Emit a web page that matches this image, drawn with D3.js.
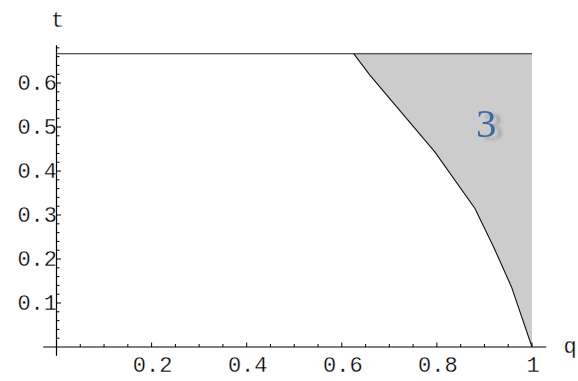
<!DOCTYPE html>
<html><head><meta charset="utf-8">
<script src="https://cdn.jsdelivr.net/npm/d3@7"></script>
<style>
html,body{margin:0;padding:0;background:#fff;}
svg{display:block;}
</style></head>
<body>
<script>
// Boundary curve of region 3 (q, t)
const boundaryQ = [0.625, 0.659, 0.796, 0.880, 0.919, 0.957, 1.0];
const boundaryT = [0.6667, 0.618, 0.443, 0.315, 0.228, 0.136, 0.0];
const topT = 2/3;
const xMajorTicks = [0.2, 0.4, 0.6, 0.8, 1];
const xTickLabels = ["0.2", "0.4", "0.6", "0.8", "1"];
const xMinorTicks = [0.05,0.1,0.15,0.25,0.3,0.35,0.45,0.5,0.55,0.65,0.7,0.75,0.85,0.9,0.95];
const yMajorTicks = [0.1, 0.2, 0.3, 0.4, 0.5, 0.6];
const yTickLabels = ["0.1", "0.2", "0.3", "0.4", "0.5", "0.6"];
const yMinorTicks = [0.02,0.04,0.06,0.08,0.12,0.14,0.16,0.18,0.22,0.24,0.26,0.28,0.32,0.34,0.36,0.38,0.42,0.44,0.46,0.48,0.52,0.54,0.56,0.58,0.62,0.64,0.66,0.68];
const regionLabel = {text: "3", q: 0.904, t: 0.477};

const W = 578, H = 381;
const svg = d3.select("body").append("svg").attr("width", W).attr("height", H);

const x = d3.scaleLinear().domain([0, 1]).range([56.5, 532.0]);
const y = d3.scaleLinear().domain([0, topT]).range([347, 53.7]);

const defs = svg.append("defs");
const f = defs.append("filter").attr("id","shadow").attr("x","-30%").attr("y","-30%").attr("width","180%").attr("height","160%");
f.append("feGaussianBlur").attr("in","SourceAlpha").attr("stdDeviation",1.4).attr("result","b");
f.append("feOffset").attr("in","b").attr("dx",7).attr("dy",3).attr("result","o");
f.append("feFlood").attr("flood-color","#a0a0a0").attr("flood-opacity",0.85).attr("result","c");
f.append("feComposite").attr("in","c").attr("in2","o").attr("operator","in").attr("result","s");
const m = f.append("feMerge");
m.append("feMergeNode").attr("in","s");
m.append("feMergeNode").attr("in","SourceGraphic");

const line = d3.line().x(d=>x(d[0])).y(d=>y(d[1]));
const pts = boundaryQ.map((q,i)=>[q, boundaryT[i]]);
const poly = [[boundaryQ[0], topT]].concat(pts).concat([[1, 0], [1, topT]]);
svg.append("path").attr("d", line(poly) + "Z").attr("fill", "#cccccc").attr("stroke", "none");

// top line
svg.append("path").attr("d", line([[0, topT],[1, topT]]))
  .attr("fill","none").attr("stroke","#222").attr("stroke-width",1.1);
// boundary curve
svg.append("path").attr("d", line(pts))
  .attr("fill","none").attr("stroke","#111").attr("stroke-width",1.1);

// axes lines
const axisG = svg.append("g").attr("stroke","#000").attr("stroke-width",1.2);
axisG.append("line").attr("x1", x(-0.028)).attr("x2", x(1.03)).attr("y1", y(0)).attr("y2", y(0));
axisG.append("line").attr("x1", x(0)).attr("x2", x(0)).attr("y1", y(-0.02)).attr("y2", y(0.686));

// ticks
const tickG = svg.append("g").attr("stroke","#000").attr("stroke-width",1);
tickG.selectAll(".xm").data(xMinorTicks).join("line")
  .attr("x1", d=>x(d)).attr("x2", d=>x(d)).attr("y1", y(0)).attr("y2", y(0)-3);
tickG.selectAll(".xM").data(xMajorTicks).join("line")
  .attr("x1", d=>x(d)).attr("x2", d=>x(d)).attr("y1", y(0)).attr("y2", y(0)-4.5);
tickG.selectAll(".ym").data(yMinorTicks).join("line")
  .attr("x1", x(0)).attr("x2", x(0)+3).attr("y1", d=>y(d)).attr("y2", d=>y(d));
tickG.selectAll(".yM").data(yMajorTicks).join("line")
  .attr("x1", x(0)).attr("x2", x(0)+4.5).attr("y1", d=>y(d)).attr("y2", d=>y(d));

const font = "'Liberation Mono', 'Courier New', monospace";
const fs = 22;
function thin(sel){ return sel.attr("stroke","#fff").attr("stroke-width",0.3).attr("paint-order","fill"); }
thin(svg.selectAll(".xl").data(xMajorTicks).join("text")
  .attr("x", d=>x(d)+1).attr("y", y(0)+25)
  .attr("text-anchor","middle").attr("font-family",font).attr("font-size",fs).attr("fill","#000")
  .text((d,i)=>xTickLabels[i]));
thin(svg.selectAll(".yl").data(yMajorTicks).join("text")
  .attr("x", x(0)+0.5).attr("y", d=>y(d)+7)
  .attr("text-anchor","end").attr("font-family",font).attr("font-size",fs).attr("fill","#000")
  .text((d,i)=>yTickLabels[i]));

thin(svg.append("text").attr("x", x(0)+1).attr("y", 27).attr("text-anchor","middle")
  .attr("font-family",font).attr("font-size",fs).attr("fill","#000").text("t"));
thin(svg.append("text").attr("x", x(1.08)).attr("y", y(0)+6).attr("text-anchor","middle")
  .attr("font-family",font).attr("font-size",fs).attr("fill","#000").text("q"));

// region label with drop shadow
svg.append("text").attr("x", x(regionLabel.q)).attr("y", y(regionLabel.t))
  .attr("text-anchor","middle").attr("font-family","'Liberation Serif','Times New Roman',serif")
  .attr("font-size",41).attr("fill","#3a6aa3").attr("filter","url(#shadow)").text(regionLabel.text);
</script>
</body></html>
